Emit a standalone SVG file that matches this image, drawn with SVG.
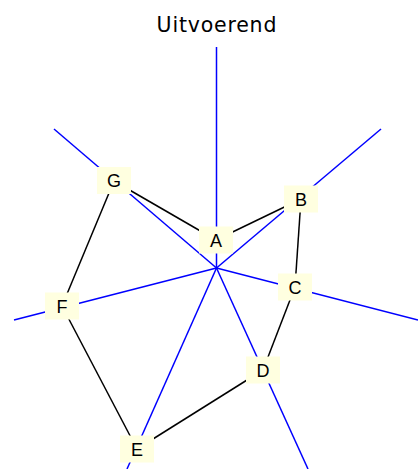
<svg xmlns="http://www.w3.org/2000/svg" width="418" height="469" viewBox="0 0 418 469">
<style>
.ray{stroke:#0000ff;stroke-width:1.5;fill:none}
.edge{stroke:#000;stroke-width:1.5;fill:none}
.box{fill:#ffffe0;stroke:none}
.lbl{font-family:"Liberation Sans",Arial,sans-serif;font-size:18px;fill:#000;text-anchor:middle;dominant-baseline:central}
.title{font-family:"DejaVu Sans",sans-serif;font-size:20.5px;letter-spacing:0.8px;fill:#000;text-anchor:middle}
</style>
<rect width="418" height="469" fill="#fff"/>
<text class="title" x="216.9" y="31.5">Uitvoerend</text>
<g id="connectors">
<g id="rays">
<line class="ray" x1="216.5" y1="268" x2="216.5" y2="47"/>
<line class="ray" x1="216.5" y1="268" x2="54" y2="129"/>
<line class="ray" x1="216.5" y1="268" x2="381" y2="129"/>
<line class="ray" x1="216.5" y1="268" x2="418" y2="320"/>
<line class="ray" x1="216.5" y1="268" x2="14" y2="320"/>
<line class="ray" x1="216.5" y1="268" x2="308" y2="469"/>
<line class="ray" x1="216.5" y1="268" x2="127" y2="469"/>
</g>
<g id="edges">
<line class="edge" x1="114" y1="181" x2="216" y2="240"/>
<line class="edge" x1="216" y1="240" x2="301" y2="199"/>
<line class="edge" x1="301" y1="199" x2="295" y2="287"/>
<line class="edge" x1="295" y1="287" x2="263" y2="370"/>
<line class="edge" x1="263" y1="370" x2="137" y2="449"/>
<line class="edge" x1="137" y1="449" x2="62" y2="306"/>
<line class="edge" x1="62" y1="306" x2="114" y2="181"/>
</g>
</g>
<g id="node-G"><rect class="box" x="97" y="167" width="34" height="27"/><text class="lbl" x="114" y="181">G</text></g>
<g id="node-A"><rect class="box" x="199" y="226.5" width="34" height="27"/><text class="lbl" x="216" y="241">A</text></g>
<g id="node-B"><rect class="box" x="284" y="185.5" width="34" height="27"/><text class="lbl" x="301" y="199.5">B</text></g>
<g id="node-C"><rect class="box" x="278" y="273.5" width="34" height="27"/><text class="lbl" x="295" y="287.5">C</text></g>
<g id="node-D"><rect class="box" x="246" y="356.5" width="34" height="27"/><text class="lbl" x="263" y="370.5">D</text></g>
<g id="node-E"><rect class="box" x="120" y="435.5" width="34" height="27"/><text class="lbl" x="137" y="449.5">E</text></g>
<g id="node-F"><rect class="box" x="45" y="292.5" width="34" height="27"/><text class="lbl" x="62" y="306.5">F</text></g>
</svg>
